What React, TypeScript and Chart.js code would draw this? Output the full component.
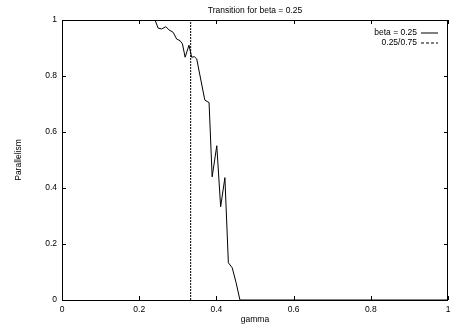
import React, { useEffect, useRef } from "react";
import { Chart, registerables } from "chart.js";

Chart.register(...registerables);

const titleText = "Transition for beta = 0.25";
const xAxisTitle = "gamma";
const yAxisTitle = "Parallelism";
const seriesLabels = ["beta = 0.25", "0.25/0.75"];

const gammaValues = [0, 0.241, 0.249, 0.258, 0.269, 0.277, 0.288, 0.297, 0.306, 0.312, 0.319, 0.329, 0.336, 0.343, 0.349, 0.37, 0.381, 0.389, 0.401, 0.411, 0.422, 0.431, 0.441, 0.451, 0.461, 1];
const parallelismValues = [1, 1, 0.971, 0.968, 0.976, 0.965, 0.956, 0.932, 0.926, 0.915, 0.867, 0.91, 0.867, 0.869, 0.861, 0.714, 0.705, 0.44, 0.551, 0.333, 0.437, 0.133, 0.115, 0.062, 0, 0];

const boundaryX = [0.25 / 0.75, 0.25 / 0.75];
const boundaryY = [0, 1];

const tickValues = [0, 0.2, 0.4, 0.6, 0.8, 1];

const FONT = '"Liberation Sans", Arial, sans-serif';
const FONT_SIZE = 8.5;

const fmt = (v: any) => String(Number(Number(v).toFixed(2)));

const gnuplotPlugin = {
  id: "gnuplotDecor",
  afterDraw(chart: any) {
    const { ctx, chartArea } = chart;
    const { left, right, top, bottom } = chartArea;
    const xs = chart.scales.x;
    const ys = chart.scales.y;
    ctx.save();
    ctx.strokeStyle = "#000";
    ctx.lineWidth = 1;
    ctx.setLineDash([]);
    ctx.strokeRect(left + 0.5, top + 0.5, right - left - 1, bottom - top);
    const tl = 4;
    ctx.beginPath();
    tickValues.forEach((v) => {
      const px = Math.round(xs.getPixelForValue(v)) + 0.5;
      ctx.moveTo(px, bottom);
      ctx.lineTo(px, bottom - tl);
      ctx.moveTo(px, top);
      ctx.lineTo(px, top + tl);
      const py = Math.round(ys.getPixelForValue(v)) + 0.5;
      ctx.moveTo(left, py);
      ctx.lineTo(left + tl, py);
      ctx.moveTo(right, py);
      ctx.lineTo(right - tl, py);
    });
    ctx.stroke();

    ctx.fillStyle = "#000";
    ctx.font = `${FONT_SIZE}px ${FONT}`;
    ctx.textBaseline = "middle";
    ctx.textAlign = "center";
    ctx.fillText(titleText, (left + right) / 2, 10.5);
    ctx.fillText(xAxisTitle, (left + right) / 2, 319.5);

    ctx.save();
    ctx.translate(18.5, (top + bottom) / 2);
    ctx.rotate(-Math.PI / 2);
    ctx.fillText(yAxisTitle, 0, 0);
    ctx.restore();

    // legend
    ctx.textAlign = "right";
    const lx = right - 31;
    const rows = [32.5, 42.5];
    ctx.fillText(seriesLabels[0], lx, rows[0]);
    ctx.fillText(seriesLabels[1], lx, rows[1]);
    ctx.beginPath();
    ctx.moveTo(lx + 4, rows[0] + 0.5);
    ctx.lineTo(lx + 21, rows[0] + 0.5);
    ctx.stroke();
    ctx.setLineDash([3, 2]);
    ctx.beginPath();
    ctx.moveTo(lx + 4, rows[1] + 0.5);
    ctx.lineTo(lx + 21, rows[1] + 0.5);
    ctx.stroke();
    ctx.restore();
  },
};

export default function App() {
  const ref = useRef<HTMLCanvasElement | null>(null);
  useEffect(() => {
    if (!ref.current) return;
    const chart = new Chart(ref.current, {
      type: "line",
      data: {
        datasets: [
          {
            label: seriesLabels[0],
            data: gammaValues.map((g, i) => ({ x: g, y: parallelismValues[i] })),
            borderColor: "#000",
            borderWidth: 1,
            pointRadius: 0,
            tension: 0,
            fill: false,
          },
          {
            label: seriesLabels[1],
            data: boundaryX.map((g, i) => ({ x: g, y: boundaryY[i] })),
            borderColor: "#000",
            borderWidth: 1,
            borderDash: [2, 1],
            pointRadius: 0,
            tension: 0,
            fill: false,
          },
        ],
      },
      options: {
        responsive: false,
        animation: false,
        devicePixelRatio: 1,
        layout: { padding: { left: 0, top: 20, right: 4, bottom: 0 } },
        plugins: {
          legend: { display: false },
          title: { display: false },
          tooltip: { enabled: false },
        },
        scales: {
          x: {
            type: "linear",
            min: 0,
            max: 1,
            grid: { display: false, drawTicks: false },
            border: { display: false },
            ticks: {
              stepSize: 0.2,
              padding: 5,
              color: "#000",
              font: { family: FONT, size: FONT_SIZE },
              maxRotation: 0,
              callback: (v: any) => fmt(v),
            },
            afterFit: (s: any) => {
              s.height = 24;
              s.paddingLeft = 0;
              s.paddingRight = 0;
            },
          },
          y: {
            type: "linear",
            min: 0,
            max: 1,
            grid: { display: false, drawTicks: false },
            border: { display: false },
            ticks: {
              stepSize: 0.2,
              padding: 5,
              color: "#000",
              font: { family: FONT, size: FONT_SIZE },
              callback: (v: any) => fmt(v),
            },
            afterFit: (s: any) => {
              s.width = 62;
              s.paddingTop = 0;
              s.paddingBottom = 0;
            },
          },
        },
      },
      plugins: [gnuplotPlugin],
    });
    return () => chart.destroy();
  }, []);
  return (
    <div style={{ position: "fixed", left: 0, top: 0, width: 452, height: 324, background: "#fff" }}>
      <canvas ref={ref} width={452} height={324} />
    </div>
  );
}
